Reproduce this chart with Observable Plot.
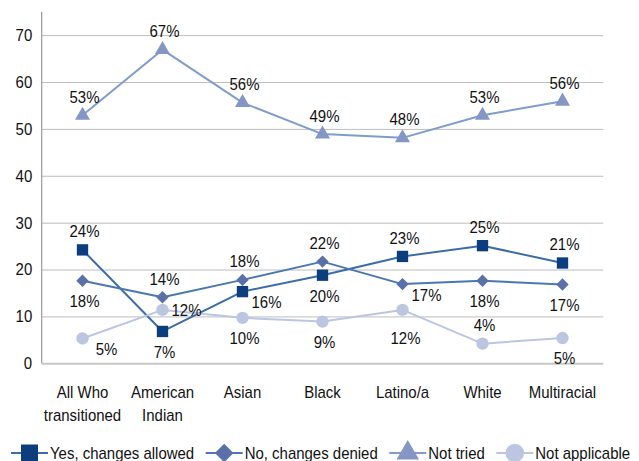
<!DOCTYPE html>
<html><head><meta charset="utf-8">
<script src="https://cdn.jsdelivr.net/npm/d3@7"></script>
<script src="https://cdn.jsdelivr.net/npm/@observablehq/plot@0.6"></script>
<style>
body{margin:0;background:#fff;}
#wrap{position:relative;width:639px;height:461px;overflow:hidden;font-family:"Liberation Sans",Arial,sans-serif;}
#legend{position:absolute;left:0;top:440px;}
</style></head><body><div id="wrap"></div>
<script>
const categories = ["All Who\ntransitioned","American\nIndian","Asian","Black","Latino/a","White","Multiracial"];
const seriesNames = ["Yes, changes allowed","No, changes denied","Not tried","Not applicable"];
const yesValues = [24.3, 6.9, 15.4, 18.9, 22.9, 25.2, 21.5];
const yesLabels = ["24%","7%","16%","20%","23%","25%","21%"];
const noValues = [17.7, 14.2, 17.9, 21.8, 17.0, 17.7, 16.9];
const noLabels = ["18%","14%","18%","22%","17%","18%","17%"];
const triedValues = [53, 67, 55.7, 49, 48.2, 53, 56];
const triedLabels = ["53%","67%","56%","49%","48%","53%","56%"];
const naValues = [5.4, 11.5, 9.8, 9.0, 11.5, 4.3, 5.5];
const naLabels = ["5%","12%","10%","9%","12%","4%","5%"];
const yTicks = [0,10,20,30,40,50,60,70];

// label placement codes (a = above, b = below, r = right, rb = right-below, bb = further below)
const yesPlacement = ["a","b","rb","b","a","a","a"];
const noPlacement = ["b","a","a","a","rb","b","b"];
const triedPlacement = ["a","a","a","a","a","a","a"];
const naPlacement = ["rb","r","b","b","bb","a","b"];

const styles = [
  {line:"#3b6ca8", fill:"#0c3d7d", symbol:"square", r:6.4},
  {line:"#4a77b2", fill:"#5a70a8", symbol:"diamond2", r:5.6},
  {line:"#7f9ccd", fill:"#8396c6", symbol:"triangle", r:5.6},
  {line:"#bac6e2", fill:"#bcc6e1", symbol:"circle", r:6.2}
];
const offsets = {a:[2,-18], b:[2,21], r:[24,1], rb:[24,11], bb:[3,29]};
const FS = 17;        // font size
const SX = 0.88;      // horizontal condensing of text

const allValues = [yesValues, noValues, triedValues, naValues];
const allLabels = [yesLabels, noLabels, triedLabels, naLabels];
const allPlacement = [yesPlacement, noPlacement, triedPlacement, naPlacement];

const data = [];
seriesNames.forEach((s, si) => {
  categories.forEach((c, ci) => {
    data.push({series: s, si, category: c, value: allValues[si][ci], label: allLabels[si][ci], place: allPlacement[si][ci]});
  });
});

const font = '"Liberation Sans",Arial,sans-serif';
const marks = [
  Plot.ruleY(yTicks.filter(d => d > 0), {stroke:"#bdbdbd", strokeWidth:1}),
  Plot.ruleY([0], {stroke:"#c8c8c8", strokeWidth:2}),
  Plot.axisY({ticks: yTicks, tickSize:0, tickPadding:10, label:null, fontSize:FS, fill:"#111"}),
  Plot.axisX({tickSize:0, tickPadding:19, label:null, fontSize:FS, lineHeight:1.3, fill:"#111"})
];
seriesNames.forEach((s, si) => {
  const st = styles[si];
  const d = data.filter(p => p.si === si);
  marks.push(Plot.line(d, {x:"category", y:"value", stroke:st.line, strokeWidth:2}));
  marks.push(Plot.dot(d, {x:"category", y:"value", symbol:()=>st.symbol, r:st.r, fill:st.fill, stroke:"none"}));
});
Object.entries(offsets).forEach(([code, [dx, dy]]) => {
  marks.push(Plot.text(data.filter(p => p.place === code), {x:"category", y:"value", text:"label", dx, dy, fontSize:FS, fill:"#111"}));
});

const chart = Plot.plot({
  width: 639,
  height: 432,
  marginLeft: 41.7,
  marginRight: 35.7,
  marginTop: 11.7,
  marginBottom: 68.7,
  style: {fontFamily: font, background:"#fff", overflow:"visible"},
  x: {type:"point", domain: categories, padding:0.5},
  y: {domain:[0,75]},
  symbol: {type:"identity"},
  marks
});
// left axis line
const yr = chart.scale("y").range;
d3.select(chart).append("line")
  .attr("x1", 41.7).attr("x2", 41.7)
  .attr("y1", yr[1]).attr("y2", yr[0])
  .attr("stroke", "#9a9a9a").attr("stroke-width", 1.2);

const wrap = document.getElementById("wrap");
wrap.appendChild(chart);

// condense texts horizontally (narrow typeface look)
function condense(root) {
  root.querySelectorAll("text").forEach(t => {
    const spans = t.querySelectorAll("tspan");
    const els = spans.length ? Array.from(spans) : [t];
    els.forEach(el => {
      const w = el.getComputedTextLength();
      if (w > 0) {
        el.setAttribute("textLength", (w * SX).toFixed(2));
        el.setAttribute("lengthAdjust", "spacingAndGlyphs");
      }
    });
  });
}
condense(chart);

// legend
const lg = d3.create("svg").attr("id","legend").attr("width", 639).attr("height", 21)
  .style("font-family", font).style("font-size", FS + "px").style("overflow","visible");
wrap.appendChild(lg.node());
let cx = 11;
const symMap = {square:d3.symbolSquare, diamond2:d3.symbolDiamond2, triangle:d3.symbolTriangle, circle:d3.symbolCircle};
seriesNames.forEach((s, si) => {
  const st = styles[si];
  const g = lg.append("g").attr("transform", `translate(${cx},0)`);
  g.append("line").attr("x1",0).attr("x2",37).attr("y1",13).attr("y2",13).attr("stroke", st.line).attr("stroke-width",2);
  const size = Math.PI * (st.r*1.5) * (st.r*1.5);
  g.append("path").attr("d", d3.symbol(symMap[st.symbol], size)()).attr("transform","translate(18.5,13)").attr("fill", st.fill);
  const t = g.append("text").attr("x", 39).attr("y", 18.5).attr("fill","#111").text(s);
  const w = t.node().getComputedTextLength() * SX;
  t.attr("textLength", w.toFixed(2)).attr("lengthAdjust","spacingAndGlyphs");
  cx += 39 + w + 11.5;
});
</script>
</body></html>
